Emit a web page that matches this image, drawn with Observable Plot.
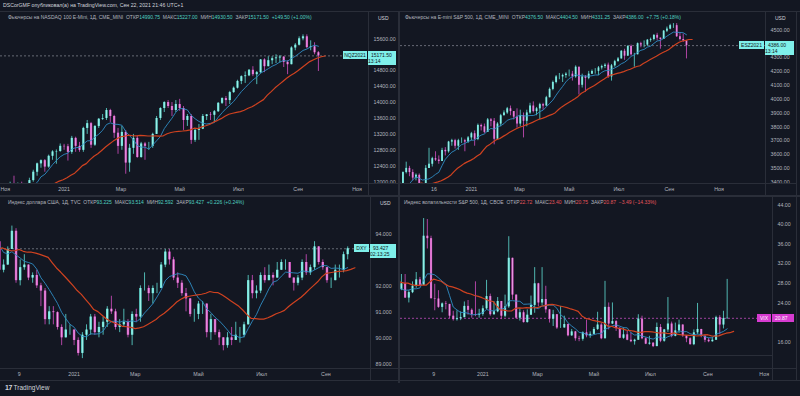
<!DOCTYPE html>
<html><head><meta charset="utf-8">
<script src="https://cdn.jsdelivr.net/npm/d3@7"></script>
<script src="https://cdn.jsdelivr.net/npm/@observablehq/plot@0.6"></script>
<style>
html,body{margin:0;padding:0}
body{width:800px;height:396px;overflow:hidden;position:relative;background:#131722;font-family:"Liberation Sans",Arial,sans-serif;color:#b2b5be}
.a{position:absolute;white-space:nowrap}
.ln{position:absolute;background:#2a2e39}
.t{font-size:5px;line-height:6px}
</style></head><body>
<script>
// ---------- candle calendar (one candle per 4 calendar days, ending 2021-09-22) ----------
const candleStart = "2020-09-03";
const candleStepDays = 4;
const candleCount = 97;

// ---------- NASDAQ 100 E-mini ----------
const nqClose = [11770,11620,11280,11590,10940,10800,11130,11420,11530,11850, 12200,11950,11800,11790,11450,11150,11900,11540,11940,11830, 11880,12040,12250,12460,12540,12380,12650,12760,12770,12900, 12890,12750,13100,12900,12800,13350,13470,12930,13400,13580, 13600,13800,13650,13230,12900,13250,12480,12850,13100,12620, 12960,12900,12900,13200,13600,13850,14000,13900,13800,13950, 13850,13550,13650,13050,13300,13330,13650,13690,13680,13770, 13980,14100,14050,14250,14360,14530,14650,14670,14810,14700, 14750,15070,14900,15050,15100,15120,15140,15010,14950,15370, 15440,15600,15650,15380,15400,15250,15171.5];
const nqHigh = [12460,11850,11700,11650,11600,11200,11150,11550,11550,11870, 12450,12250,11950,11900,11850,11500,12000,12150,11980,12000, 11950,12100,12300,12480,12560,12570,12680,12790,12810,12960, 12950,12950,13150,13130,13000,13380,13550,13500,13420,13600, 13700,13850,13830,13680,13350,13400,13300,12950,13200,13150, 13000,13000,13000,13230,13650,13870,14020,14050,14000,14050, 14080,13900,13700,13700,13350,13450,13700,13700,13750,13800, 14000,14120,14150,14280,14390,14560,14670,14770,14830,14900, 14780,15080,15100,15150,15150,15200,15180,15150,15050,15400, 15480,15650,15700,15700,15550,15500,15280];
const nqLow = [11700,11050,10900,11280,10900,10650,10700,11100,11100,11400, 11850,11800,11650,11650,11150,10800,11150,11400,11500,11800, 11700,11800,12000,12150,12350,12250,12350,12550,12450,12750, 12800,12530,12700,12750,12750,12750,13200,12850,12900,13350, 13550,13550,13500,13100,12700,12800,12200,12250,12700,12600, 12600,12550,12800,12850,13200,13550,13750,13850,13650,13750, 13780,13300,13400,12950,13000,13050,13320,13550,13550,13500, 13750,13950,13900,13950,14230,14340,14450,14480,14650,14650, 14450,14720,14750,14900,14950,14980,14990,14880,14700,14950, 15300,15420,15550,15350,15300,15200,14780];

// ---------- S&P 500 E-mini ----------
const esClose = [3450,3420,3330,3400,3310,3230,3290,3370,3390,3470, 3500,3470,3430,3450,3290,3300,3500,3530,3570,3560, 3550,3630,3620,3690,3700,3660,3700,3700,3690,3720, 3750,3710,3810,3800,3760,3850,3840,3710,3820,3880, 3900,3930,3910,3870,3820,3880,3840,3900,3950,3910, 3930,3960,3950,4010,4070,4120,4160,4160,4170,4180, 4180,4160,4230,4100,4160,4150,4180,4200,4200,4225, 4235,4245,4160,4240,4270,4290,4345,4310,4380,4320, 4320,4400,4390,4390,4425,4430,4460,4440,4430,4490, 4505,4530,4530,4450,4430,4420,4386];
const esHigh = [3587,3480,3420,3410,3420,3320,3300,3390,3400,3475, 3545,3515,3490,3460,3460,3330,3520,3645,3580,3620, 3590,3645,3650,3695,3710,3710,3710,3720,3710,3730, 3760,3770,3820,3820,3820,3860,3860,3860,3830,3890, 3915,3940,3950,3910,3930,3920,3900,3920,3970,3980, 3940,3970,3970,4020,4080,4130,4170,4185,4180,4190, 4210,4200,4240,4230,4180,4170,4200,4210,4220,4235, 4245,4255,4260,4250,4280,4300,4350,4360,4385,4390, 4330,4405,4410,4420,4430,4440,4465,4475,4440,4495, 4520,4540,4545,4545,4480,4470,4420];
const esLow = [3440,3350,3300,3320,3290,3210,3200,3280,3310,3370, 3460,3440,3410,3410,3250,3230,3300,3500,3510,3550, 3530,3550,3590,3610,3660,3640,3630,3680,3620,3680, 3700,3660,3700,3770,3750,3760,3800,3670,3710,3800, 3880,3890,3880,3850,3790,3800,3720,3800,3890,3900, 3880,3850,3920,3950,4010,4060,4110,4140,4120,4150, 4160,4130,4150,4030,4080,4050,4140,4180,4180,4170, 4210,4220,4150,4130,4230,4270,4290,4280,4310,4310, 4230,4320,4370,4370,4380,4410,4420,4420,4360,4430, 4480,4500,4510,4445,4420,4410,4290];

// ---------- US Dollar Index ----------
const dxyClose = [92.8,92.9,93.3,93.0,92.9,94.4,94.6,93.8,93.5,93.1, 93.5,93.7,92.6,92.8,93.4,94.1,92.2,92.7,92.8,92.3, 92.4,92.0,91.8,90.7,91.0,90.97,90.4,90.0,90.3,90.3, 89.9,89.4,90.1,90.3,90.8,90.2,90.4,90.6,91.1,91.0, 90.4,90.5,90.6,90.1,90.9,90.8,91.9,91.9,91.7,91.9, 91.9,92.8,93.3,93.0,92.3,92.1,91.7,91.5,90.9,90.9, 91.3,91.3,90.2,90.7,90.2,90.0,89.7,90.0,89.9,90.1, 90.1,90.5,92.2,91.7,91.8,92.4,92.2,92.4,92.3,92.6, 92.9,92.9,92.3,92.1,92.3,92.9,92.5,92.7,93.5,92.9, 92.7,92.2,92.2,92.6,92.6,93.2,93.427];
const dxyHigh = [92.9,93.2,93.6,93.4,93.2,94.5,94.7,94.6,94.0,93.8, 93.6,93.9,93.7,93.0,93.5,94.3,94.2,93.0,93.2,92.8, 92.5,92.6,92.1,91.9,91.2,91.2,91.0,90.5,90.9,90.5, 90.3,90.0,90.2,90.5,90.9,90.9,90.6,90.8,91.2,91.6, 91.1,90.7,91.1,90.7,91.0,91.1,92.0,92.5,92.0,92.0, 92.1,92.9,93.4,93.4,93.1,92.5,92.2,91.9,91.5,91.1, 91.4,91.4,91.3,90.9,90.7,90.3,90.0,90.2,90.4,90.6, 90.4,90.6,92.4,92.4,92.0,92.5,92.7,92.8,92.5,92.9, 93.0,93.0,92.9,92.3,92.4,93.0,93.2,92.8,93.7,93.5, 93.0,92.7,92.3,92.8,92.8,93.3,93.5];
const dxyLow = [91.8,92.6,92.7,92.9,92.7,92.8,94.1,93.7,93.4,93.0, 92.9,93.3,92.5,92.5,92.8,93.4,92.1,92.0,92.6,92.2, 92.1,91.9,91.2,90.5,90.5,90.5,90.3,89.7,90.0,90.1, 89.7,89.3,89.2,89.9,90.1,90.1,90.0,90.1,90.4,90.9, 90.3,90.2,90.4,90.0,89.7,90.6,90.6,91.8,91.4,91.3, 91.7,91.9,92.7,92.8,92.2,91.9,91.6,91.0,90.8,90.6, 90.7,90.9,90.0,89.9,90.1,89.7,89.5,89.6,89.7,89.9, 89.8,90.0,90.5,91.5,91.5,91.7,92.1,92.2,92.0,92.3, 92.6,92.6,92.3,91.8,92.0,92.2,92.4,92.4,92.6,92.8, 92.6,92.1,91.9,92.2,92.3,92.5,93.0];

// ---------- CBOE VIX ----------
const vixClose = [33.6,30.8,26.9,25.6,25.8,28.6,26.4,26.7,27.9,25.0, 26.1,27.4,28.7,27.6,37.6,37.1,24.9,24.8,23.1,23.8, 23.7,21.3,20.6,20.8,21.0,23.3,22.5,21.6,21.5,21.7, 22.8,25.3,21.6,22.2,24.3,21.3,23.2,33.1,25.6,20.9, 22.0,20.0,21.5,23.5,27.9,24.0,24.7,22.6,20.7,21.6, 18.9,18.9,19.6,17.3,18.1,16.7,16.6,17.9,17.3,17.6, 18.6,19.5,16.7,23.1,19.7,20.2,18.8,16.8,17.5,16.4, 16.1,16.4,20.7,16.7,15.6,15.8,15.1,19.0,16.2,18.5, 19.7,17.2,18.3,19.5,17.3,16.7,15.5,17.9,18.6,17.2, 16.4,16.1,16.4,21.0,19.5,20.8,20.87];
const vixHigh = [35.0,38.3,33.0,27.5,27.3,29.6,29.3,27.4,29.8,29.8, 26.5,28.3,30.2,29.2,41.2,41.0,37.6,27.8,26.5,24.0, 24.3,22.6,22.3,22.4,22.2,24.2,24.5,22.8,28.3,22.7, 23.4,28.6,25.8,24.3,25.1,24.0,25.6,37.5,33.0,25.6, 22.8,22.4,22.6,25.4,31.2,28.0,31.2,27.4,22.6,22.5, 21.5,23.3,21.3,19.7,18.6,18.2,17.2,18.1,20.5,18.1, 19.0,22.1,19.8,28.4,24.0,24.0,20.4,19.0,18.9,18.2, 17.9,16.6,21.6,21.3,16.9,17.2,15.9,19.9,19.6,18.6, 25.1,20.1,19.9,20.5,19.5,17.3,16.9,18.5,23.9,18.6, 17.5,16.8,17.0,21.3,21.4,22.3,28.8];
const vixLow = [26.0,28.5,26.4,25.2,24.9,25.7,26.1,25.4,26.5,24.9, 24.0,25.9,27.0,27.3,28.0,35.0,24.7,22.4,22.9,22.0, 22.6,20.8,20.3,20.3,20.4,21.1,21.5,20.9,21.2,20.9, 21.3,22.6,21.3,21.5,22.0,20.6,21.0,22.9,24.6,20.7, 20.3,19.9,19.9,21.7,21.9,23.2,23.4,21.9,19.9,19.2, 18.6,18.8,18.9,17.1,17.2,16.2,16.1,16.2,16.9,16.8, 17.6,18.4,16.5,19.7,18.5,19.6,18.2,16.7,16.6,16.3, 15.9,15.4,16.5,16.5,15.5,15.4,14.9,15.2,15.9,16.0, 18.0,16.9,17.1,17.8,17.0,15.9,15.4,15.3,17.5,16.9, 15.9,15.9,16.0,16.5,17.5,18.7,20.7];

// ---------- texts ----------
const headerText = "DSCorGMF опубликовал(а) на TradingView.com, Сен 22, 2021 21:46 UTC+1";
const ohlcKeys = ["ОТКР","МАКС","МИН","ЗАКР"];
const nqName = "Фьючерсы на NASDAQ 100 E-Mini, 1Д, CME_MINI";
const nqOHLC = ["14990.75","15227.00","14930.50","15171.50"];
const nqChange = "+149.50 (+1.00%)";
const esName = "Фьючерсы на E-mini S&P 500, 1Д, CME_MINI";
const esOHLC = ["4376.50","4404.50","4331.25","4386.00"];
const esChange = "+7.75 (+0.18%)";
const dxyName = "Индекс доллара США, 1Д, TVC";
const dxyOHLC = ["93.225","93.514","92.592","93.427"];
const dxyChange = "+0.226 (+0.24%)";
const vixName = "Индекс волатильности S&P 500, 1Д, CBOE";
const vixOHLC = ["22.72","23.40","20.75","20.87"];
const vixChange = "−3.49 (−14.33%)";

// price-axis ticks that remain visible (those under the price / currency boxes are hidden in the reference)
const nqTicks = [12000,12400,12800,13200,13600,14000,14400,14800,15600];
const esTicks = [3400,3500,3600,3700,3800,3900,4000,4100,4200,4300,4500];
const dxyTicks = [89,90,91,92,94];
const vixTicks = [16,24,28,32,36,40,44];

const nqTimeTicks = ["2020-11-01","2021-01-01","2021-03-01","2021-05-01","2021-07-01","2021-09-01","2021-11-01"];
const nqTimeLabels = ["Ноя","2021","Мар","Май","Июл","Сен","Ноя"];
const esTimeTicks = ["2020-11-16","2021-01-01","2021-03-01","2021-05-01","2021-07-01","2021-09-01","2021-11-01"];
const esTimeLabels = ["16","2021","Мар","Май","Июл","Сен","Ноя"];
const dxyTimeTicks = ["2020-11-09","2021-01-01","2021-03-01","2021-05-01","2021-07-01","2021-09-01"];
const dxyTimeLabels = ["9","2021","Мар","Май","Июл","Сен"];
const vixTimeTicks = ["2020-11-09","2021-01-01","2021-03-01","2021-05-01","2021-07-01","2021-09-01","2021-11-01"];
const vixTimeLabels = ["9","2021","Мар","Май","Июл","Сен","Ноя"];

// ---------- style ----------
const UP = "#5fe0d6", UP_IN = "#c9f7f2", DN = "#d64fc4", DN_IN = "#f0cdef";
const BLUE = "#2f8cc4", RED = "#cf4220";
const TEAL_TXT = "#4fd0c0", RED_TXT = "#e5565c";
const FONT = "'Liberation Sans', Arial, sans-serif";
const FAST_K = 7, SLOW_K = 18, SLOW_SHIFT_DAYS = 7;

const candleDates = d3.range(candleCount).map(i => d3.utcDay.offset(new Date(candleStart + "T00:00:00Z"), i * candleStepDays));

function el(cls, left, top, html, style) {
  const d = document.createElement("div");
  d.className = cls;
  d.style.cssText = `left:${left}px;top:${top}px;` + (style || "");
  if (html != null) d.innerHTML = html;
  document.body.append(d);
  return d;
}
function line(x, y, w, h, color) {
  el("ln", x, y, null, `width:${w}px;height:${h}px;` + (color ? `background:${color};` : ""));
}
function titleHTML(name, vals, chg, col) {
  return name + "&nbsp;&nbsp;" + ohlcKeys.map((k, i) => `${k}<span style="color:${col}">${vals[i]}</span>`).join("&nbsp;&nbsp;") +
    `&nbsp;&nbsp;<span style="color:${col}">${chg}</span>`;
}

function panel(cfg) {
  const rows = cfg.close.map((c, i) => {
    const o = i ? cfg.close[i - 1] : c;
    return {date: candleDates[i], o, c, h: Math.max(cfg.high[i], o, c), l: Math.min(cfg.low[i], o, c), up: c >= o};
  });
  const xd = cfg.xd.map(s => new Date(s + "T00:00:00Z"));
  const plotW = cfg.width - cfg.mr;
  const pxPerDay = plotW / ((xd[1] - xd[0]) / 864e5);
  const bw = pxPerDay * candleStepDays * 0.58;
  const ticks = cfg.xt.map(s => new Date(s + "T00:00:00Z"));
  const labelOf = new Map(ticks.map((t, i) => [+t, cfg.xl[i]]));
  const last = rows[rows.length - 1];
  const p = Plot.plot({
    width: cfg.width, height: cfg.plotH + 12,
    marginLeft: 0, marginRight: cfg.mr, marginTop: 0, marginBottom: 12,
    style: {background: "transparent", color: "#b2b5be", fontSize: "5.3px", fontFamily: FONT, overflow: "visible"},
    color: {type: "identity"},
    x: {type: "utc", domain: xd, ticks, tickFormat: d => labelOf.get(+d) ?? "", tickSize: 0, tickPadding: 4, label: null},
    y: {domain: cfg.yd, axis: "right", ticks: cfg.yt, tickFormat: d => d.toFixed(cfg.dec), tickSize: 0, tickPadding: 5, label: null},
    marks: [
      Plot.ruleY([last.c], {stroke: cfg.lineColor, strokeDasharray: "2,2", strokeWidth: 0.8}),
      Plot.ruleX(rows, {x: "date", y1: "l", y2: "h", stroke: d => d.up ? UP : DN, strokeWidth: 0.8, clip: true}),
      Plot.ruleX(rows, {x: "date", y1: "o", y2: "c", stroke: d => d.up ? UP : DN, strokeWidth: bw, clip: true}),
      Plot.ruleX(rows, {x: "date", y1: "o", y2: "c", stroke: d => d.up ? UP_IN : DN_IN, strokeWidth: bw * 0.35, strokeOpacity: 0.8, clip: true}),
      Plot.lineY(rows, Plot.windowY({k: FAST_K, anchor: "end", reduce: "mean"}, {x: "date", y: "c", stroke: BLUE, strokeWidth: 0.9, clip: true})),
      Plot.lineY(rows, Plot.windowY({k: SLOW_K, anchor: "end", reduce: "mean"}, {x: d => d3.utcDay.offset(d.date, SLOW_SHIFT_DAYS), y: "c", stroke: RED, strokeWidth: 1.2, clip: true}))
    ]
  });
  const wrap = el("a", cfg.left, cfg.top, null, "");
  wrap.append(p);
  const ys = p.scale("y");
  const yf = ys.apply ? (v => ys.apply(v)) : d3.scaleLinear(ys.domain, ys.range);
  const py = cfg.top + yf(last.c);
  const axX = cfg.left + plotW;
  // borders of this panel
  line(axX, cfg.top, 1, cfg.plotH + 12);
  line(cfg.left, cfg.top + cfg.plotH, cfg.width, 1);
  if (cfg.paneSep) line(cfg.left, cfg.top + cfg.paneSep, plotW, 1);
  // title
  el("a t", cfg.left + cfg.titleX, cfg.top + 2, cfg.title, "");
  // currency
  if (cfg.cur) el("a t", axX + 9, cfg.top + 3, cfg.cur, "color:#d1d4dc;background:#131722;padding:0 1px;");
  // symbol box + price box
  const fg = cfg.boxFg, bg = cfg.boxBg;
  el("a", axX - cfg.symW - 1, py - 4, cfg.symbol,
     `width:${cfg.symW}px;height:8px;line-height:8px;font-size:5px;text-align:center;background:${bg};color:${fg};`);
  el("a", axX, py - 4, cfg.priceLines.join("<br>"),
     `width:${cfg.width - plotW - 2}px;line-height:6px;padding:1px 0;font-size:5px;text-align:left;text-indent:3px;background:${bg};color:${fg};`);
}

// ---------- page frame ----------
el("a", 3, 2, headerText, "font-size:5.2px;line-height:6px;color:#d1d4dc;");
line(0, 11, 800, 1);
line(398, 11, 2, 372);
line(0, 195, 800, 2);
line(0, 380, 800, 1);
line(796, 11, 1, 370);

panel({left: 0, top: 12, width: 398, plotH: 171, mr: 30,
  close: nqClose, high: nqHigh, low: nqLow,
  xd: ["2020-10-27", "2021-11-13"], yd: [11967, 16261], yt: nqTicks, dec: 2,
  xt: nqTimeTicks, xl: nqTimeLabels, lineColor: "#7b7f8a",
  title: titleHTML(nqName, nqOHLC, nqChange, TEAL_TXT), titleX: 8, cur: "USD",
  symbol: "NQZ2021", symW: 24, priceLines: ["15171.50", "13:14"], boxBg: "#7ff0ea", boxFg: "#131722"});

panel({left: 400, top: 12, width: 396, plotH: 171, mr: 31,
  close: esClose, high: esHigh, low: esLow,
  xd: ["2020-10-06", "2021-12-28"], yd: [3391, 4625], yt: esTicks, dec: 2,
  xt: esTimeTicks, xl: esTimeLabels, lineColor: "#7b7f8a",
  title: titleHTML(esName, esOHLC, esChange, TEAL_TXT), titleX: 5, cur: "USD",
  symbol: "ESZ2021", symW: 25, priceLines: ["4386.00", "13:14"], boxBg: "#7ff0ea", boxFg: "#131722"});

panel({left: 0, top: 197, width: 398, plotH: 171, mr: 28,
  close: dxyClose, high: dxyHigh, low: dxyLow,
  xd: ["2020-10-22", "2021-10-14"], yd: [88.82, 95.40], yt: dxyTicks, dec: 3,
  xt: dxyTimeTicks, xl: dxyTimeLabels, lineColor: "#7b7f8a",
  title: titleHTML(dxyName, dxyOHLC, dxyChange, TEAL_TXT), titleX: 8, cur: "USD",
  symbol: "DXY", symW: 15, priceLines: ["93.427", "02:13:25"], boxBg: "#7ff0ea", boxFg: "#131722"});

panel({left: 400, top: 197, width: 396, plotH: 171, mr: 24, paneSep: 158,
  close: vixClose, high: vixHigh, low: vixLow,
  xd: ["2020-10-04", "2021-11-10"], yd: [10.64, 45.49], yt: vixTicks, dec: 2,
  xt: vixTimeTicks, xl: vixTimeLabels, lineColor: "#c24dbf",
  title: titleHTML(vixName, vixOHLC, vixChange, RED_TXT), titleX: 4, cur: null,
  symbol: "VIX", symW: 14, priceLines: ["20.87"], boxBg: "#d63bd0", boxFg: "#ffffff"});

// ---------- footer ----------
el("a", 5, 384, "<b style='font-size:7px;letter-spacing:-0.5px'>17</b>&nbsp;TradingView", "font-size:6.5px;line-height:8px;color:#d1d4dc;");
</script>
</body></html>
